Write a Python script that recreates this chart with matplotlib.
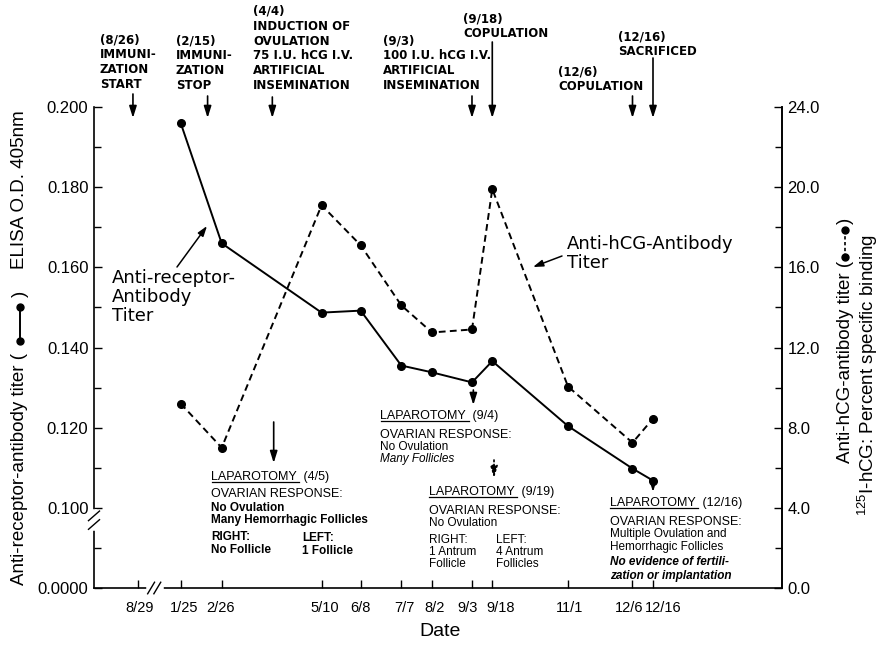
import numpy as np
import pandas as pd
import matplotlib
matplotlib.use("Agg")
import matplotlib.pyplot as plt
from matplotlib import transforms
from matplotlib.lines import Line2D

plt.rcParams['font.family'] = ['DejaVu Sans']
plt.rcParams['mathtext.default'] = 'regular'

# sampling dates and the two titers
sample_dates = ['1978-01-25', '1978-02-26', '1978-05-10', '1978-06-08', '1978-07-07', '1978-08-02',
                '1978-09-03', '1978-09-18', '1978-11-01', '1978-12-06', '1978-12-16']
receptor_od = [0.196, 0.166, 0.1487, 0.1492, 0.1355, 0.1338, 0.1313, 0.1366, 0.1204, 0.1098, 0.1068]
hcg_binding = [9.2, 7.0, 19.1, 17.1, 14.1, 12.75, 12.9, 19.9, 10.05, 7.25, 8.45]

# x axis is not drawn to scale: where each tick date sits (fraction of axis width)
tick_dates = ['1977-08-29'] + sample_dates
tick_labels = ['8/29', '1/25', '2/26', '5/10', '6/8', '7/7', '8/2', '9/3', '9/18', '11/1', '12/6', '12/16']
tick_frac = [0.064, 0.126, 0.1856, 0.3308, 0.3876, 0.4467, 0.4913, 0.5494, 0.5789, 0.689, 0.7827, 0.8125]
label_nudge = [2, 3, -1, 3, 0, 3, 3, -4, 8, 2, -3, 10]   # px, crowded labels pushed apart
x_start, x_end = '1977-08-03', '1979-02-20'

left_ticks = [0.0, 0.100, 0.120, 0.140, 0.160, 0.180, 0.200]
left_labels = ['0.0000', '0.100', '0.120', '0.140', '0.160', '0.180', '0.200']
left_minor = [0.05, 0.11, 0.13, 0.15, 0.17, 0.19]
right_ticks = [0, 4, 8, 12, 16, 20, 24]
right_minor = [2, 6, 10, 14, 18, 22]

event_dates = ['1977-08-26', '1978-02-15', '1978-04-04', '1978-09-03', '1978-09-18', '1978-12-06', '1978-12-16']
event_texts = ['(8/26)\nIMMUNI-\nZATION\nSTART',
               '(2/15)\nIMMUNI-\nZATION\nSTOP',
               '(4/4)\nINDUCTION OF\nOVULATION\n75 I.U. hCG I.V.\nARTIFICIAL\nINSEMINATION',
               '(9/3)\n100 I.U. hCG I.V.\nARTIFICIAL\nINSEMINATION',
               '(9/18)\nCOPULATION',
               '(12/6)\nCOPULATION',
               '(12/16)\nSACRIFICED']
# text left x, text bottom y, arrow top y (pixels)
event_layout = [(100, 91, 94), (176, 92, 96), (253, 92, 97), (383, 92, 96),
                (463, 40, 42), (558, 93, 96), (618, 58, 58)]

t0 = pd.Timestamp('1977-08-29')


def day(s):
    return (pd.Timestamp(s) - t0).days


knot_days = [day(x_start)] + [day(d) for d in tick_dates] + [day(x_end)]
knot_frac = [0.0] + tick_frac + [1.0]


def date_fwd(d):
    return np.interp(d, knot_days, knot_frac)


def date_inv(f):
    return np.interp(f, knot_frac, knot_days)


def od_fwd(v):
    v = np.asarray(v, float)
    return np.where(v >= 0.1, 4 + (v - 0.1) * 200, v * 40)


def od_inv(t):
    t = np.asarray(t, float)
    return np.where(t >= 4, 0.1 + (t - 4) / 200, t / 40)


W, H = 882, 646
fig = plt.figure(figsize=(W / 100, H / 100), dpi=100)
ax = fig.add_axes([94 / W, 1 - 588 / H, 688 / W, 481 / H])
px = transforms.Affine2D().scale(1 / W, -1 / H).translate(0, 1) + fig.transFigure

ax.set_xscale('function', functions=(date_fwd, date_inv))
ax.set_xlim(knot_days[0], knot_days[-1])
ax.set_yscale('function', functions=(od_fwd, od_inv))
ax.set_ylim(0, 0.2)

ax2 = ax.twinx()
ax2.set_ylim(0, 24)

xs = [day(d) for d in sample_dates]
ax.plot(xs, receptor_od, color='k', lw=1.4, marker='o', ms=5.5, zorder=3)
ax2.plot(xs, hcg_binding, color='k', lw=1.4, ls=(0, (3.5, 2.2)), marker='o', ms=5.5, zorder=3)

tickfont = 'Liberation Sans'
ax.set_xticks([day(d) for d in tick_dates], labels=tick_labels)
ax.set_xticks([], minor=True)
ax.set_yticks(left_ticks, labels=left_labels)
ax.set_yticks(left_minor, minor=True)
ax2.set_yticks(right_ticks, labels=[f'{v:.1f}' for v in right_ticks])
ax2.set_yticks(right_minor, minor=True)
ax.tick_params(which='both', direction='in', top=False, right=False, width=1.0,
               labelsize=12, labelfontfamily=tickfont)
ax.tick_params(which='major', length=6)
ax.tick_params(which='minor', length=5)
ax.tick_params(axis='x', pad=9, labelsize=10.5)
ax.tick_params(axis='y', pad=4)
ax2.tick_params(which='both', direction='in', width=1.0, labelsize=12, labelfontfamily=tickfont, pad=4)
ax2.tick_params(which='major', length=6)
ax2.tick_params(which='minor', length=5)
for lbl, dx in zip(ax.get_xticklabels(), label_nudge):
    lbl.set_transform(lbl.get_transform() + transforms.ScaledTranslation(dx / 100, 0, fig.dpi_scale_trans))

for a in (ax, ax2):
    a.spines['top'].set_visible(False)
    for s in a.spines.values():
        s.set_linewidth(1.2)
ax2.spines['left'].set_visible(False)
ax2.spines['bottom'].set_visible(False)

# axis breaks
ax.plot([0, 0], [0.125, 0.158], transform=ax.transAxes, color='white', lw=4, clip_on=False, zorder=6)
for dy in (0.0, 0.018):
    ax.plot([-0.008, 0.008], [0.122 + dy, 0.142 + dy], transform=ax.transAxes, color='k', lw=1.0,
            clip_on=False, zorder=7)
ax.plot([0.080, 0.097], [0, 0], transform=ax.transAxes, color='white', lw=4, clip_on=False, zorder=6)
for dx in (0.0, 0.009):
    ax.plot([0.078 + dx, 0.088 + dx], [-0.012, 0.012], transform=ax.transAxes, color='k', lw=1.0,
            clip_on=False, zorder=7)

ax.set_xlabel('Date', fontsize=14, fontfamily=tickfont)
ax.xaxis.set_label_coords((440 - 94) / 688, -(623 - 588) / 481)


def put(x, y, s, size=9, ha='left', va='center', **kw):
    return fig.text(x, y, s, transform=px, fontsize=size, ha=ha, va=va, **kw)


def underline(x0, x1, y):
    fig.add_artist(Line2D([x0, x1], [y, y], transform=px, color='k', lw=0.9))


def arrow(x_date, y_top, y_tip, ls='-'):
    blend = transforms.blended_transform_factory(ax.transData, px)
    ax.annotate('', xy=(day(x_date), y_tip), xytext=(day(x_date), y_top), xycoords=blend, textcoords=blend,
                arrowprops=dict(arrowstyle='-|>,head_length=0.7,head_width=0.22', lw=1.2, color='k',
                                shrinkA=0, shrinkB=0, linestyle=ls), annotation_clip=False)


# events above the plot
for d, txt, (tx, ty, atop) in zip(event_dates, event_texts, event_layout):
    put(tx, ty, txt, size=8.5, va='bottom', fontweight='bold', linespacing=1.18)
    arrow(d, atop, 118)

# laparotomy notes
lf = 'Liberation Sans'
arrow('1978-04-05', 422, 463)
put(211, 477, 'LAPAROTOMY  (4/5)', family=lf)
underline(212, 299, 482)
put(211, 494, 'OVARIAN RESPONSE:', family=lf)
put(211, 508, 'No Ovulation', family=lf, fontweight='bold', size=8.5)
put(211, 520, 'Many Hemorrhagic Follicles', family=lf, fontweight='bold', size=8.5)
put(211, 537, 'RIGHT:', family=lf, fontweight='bold', size=8.5)
put(211, 550, 'No Follicle', family=lf, fontweight='bold', size=8.5)
put(302, 538, 'LEFT:', family=lf, fontweight='bold', size=8.5)
put(302, 551, '1 Follicle', family=lf, fontweight='bold', size=8.5)

arrow('1978-09-04', 390, 405)
put(380, 416, 'LAPAROTOMY  (9/4)', family=lf)
underline(381, 469, 421)
put(380, 435, 'OVARIAN RESPONSE:', family=lf)
put(380, 447, 'No Ovulation', family=lf, size=8.5)
put(380, 459, 'Many Follicles', family=lf, size=8.5, style='italic')

arrow('1978-09-19', 460, 478, ls=':')
put(429, 492, 'LAPAROTOMY  (9/19)', family=lf)
underline(429, 517, 497)
put(429, 511, 'OVARIAN RESPONSE:', family=lf)
put(429, 523, 'No Ovulation', family=lf, size=8.5)
put(429, 540, 'RIGHT:', family=lf, size=8.5)
put(429, 552, '1 Antrum', family=lf, size=8.5)
put(429, 564, 'Follicle', family=lf, size=8.5)
put(496, 540, 'LEFT:', family=lf, size=8.5)
put(496, 552, '4 Antrum', family=lf, size=8.5)
put(496, 564, 'Follicles', family=lf, size=8.5)

arrow('1978-12-16', 481, 492)
put(610, 503, 'LAPAROTOMY  (12/16)', family=lf)
underline(610, 698, 508)
put(610, 522, 'OVARIAN RESPONSE:', family=lf)
put(610, 534, 'Multiple Ovulation and', family=lf, size=8.5)
put(610, 547, 'Hemorrhagic Follicles', family=lf, size=8.5)
put(610, 562, 'No evidence of fertili-', family=lf, size=8.5, style='italic', fontweight='bold')
put(610, 576, 'zation or implantation', family=lf, size=8.5, style='italic', fontweight='bold')

# curve labels
put(112, 269, 'Anti-receptor-\nAntibody\nTiter', size=13, va='top', linespacing=1.08)
ax.annotate('', xy=(207, 226), xytext=(177, 267), xycoords=px, textcoords=px,
            arrowprops=dict(arrowstyle='-|>,head_length=0.6,head_width=0.2', lw=1.1, color='k',
                            shrinkA=0, shrinkB=0), annotation_clip=False)
put(567, 235, 'Anti-hCG-Antibody\nTiter', size=13, va='top', linespacing=1.08)
ax.annotate('', xy=(533, 267), xytext=(562, 256), xycoords=px, textcoords=px,
            arrowprops=dict(arrowstyle='-|>,head_length=0.6,head_width=0.2', lw=1.1, color='k',
                            shrinkA=0, shrinkB=0), annotation_clip=False)

# axis titles with line-style keys
rot = dict(rotation=90, rotation_mode='anchor', family=tickfont, size=13.5)
put(20, 585, 'Anti-receptor-antibody titer (', ha='left', **rot)
put(20, 294, ')', ha='center', **rot)
put(20, 110, 'ELISA O.D. 405nm', ha='right', **rot)
fig.add_artist(Line2D([20 / W, 20 / W], [1 - 341 / H, 1 - 307 / H], transform=fig.transFigure,
                      color='k', lw=1.4, marker='o', ms=5))

put(845, 463, 'Anti-hCG-antibody titer (', ha='left', **rot)
put(845, 221, ')', ha='center', **rot)
fig.add_artist(Line2D([845 / W, 845 / W], [1 - 257 / H, 1 - 230 / H], transform=fig.transFigure,
                      color='k', lw=1.2, ls=(0, (2, 1.5)), marker='o', ms=5))
put(868, 375, '$^{125}$I-hCG: Percent specific binding', ha='center', **rot)

fig.savefig('out.png', dpi=100)
